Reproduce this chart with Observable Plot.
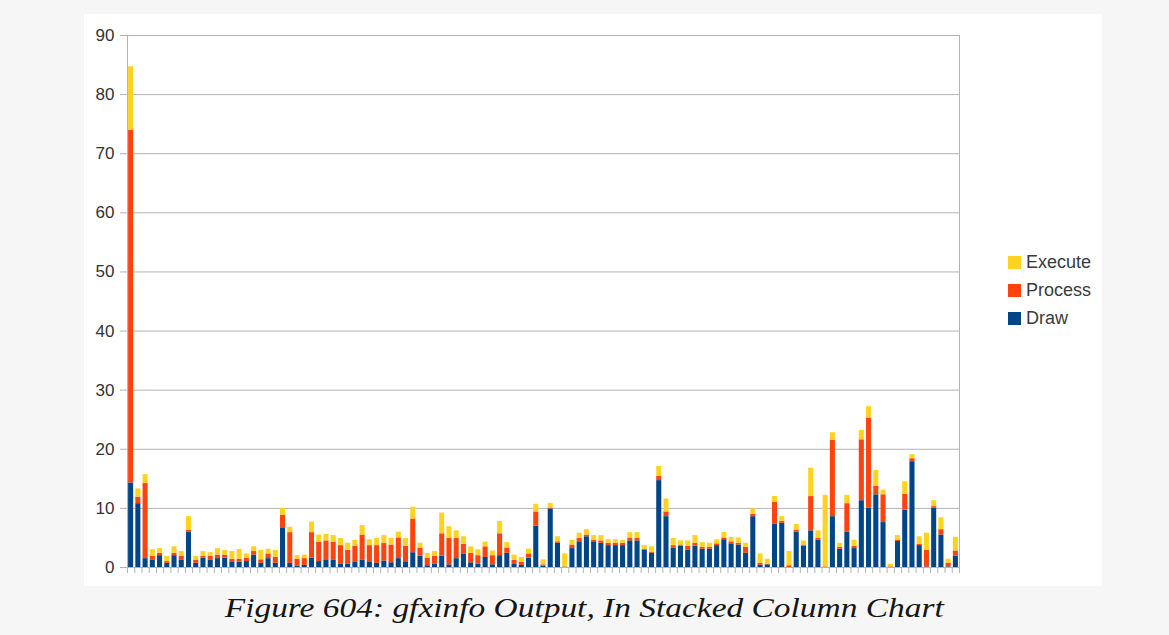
<!DOCTYPE html>
<html><head><meta charset="utf-8">
<script src="https://cdn.jsdelivr.net/npm/d3@7"></script>
<script src="https://cdn.jsdelivr.net/npm/@observablehq/plot@0.6"></script>
<style>
html,body{margin:0;padding:0;background:#f6f6f6;width:1169px;height:635px;overflow:hidden;}
#panel{position:absolute;left:84px;top:14px;width:1018px;height:572px;background:#fff;}
#panel svg{position:absolute;left:0;top:0;}
#legend{position:absolute;left:924px;top:234px;font-family:"Liberation Sans",Arial,sans-serif;font-size:18px;color:#3a3a3a;}
.item{display:flex;align-items:center;height:28px;}
.sw{width:13px;height:13px;margin-right:5px;}
#caption{position:absolute;left:0;width:1169px;top:592px;text-align:center;font-family:"Liberation Serif",serif;font-style:italic;font-size:28px;color:#151515;white-space:nowrap;}
#caption span{display:inline-block;transform-origin:50% 50%;}
</style></head>
<body>
<div id="panel"><div id="legend"></div></div>
<div id="caption">Figure 604: gfxinfo Output, In Stacked Column Chart</div>
<script>
const frames = d3.range(1, 116);
const draw = [14.3,10.8,1.5,1.2,2.0,0.7,2.0,1.2,6.0,0.7,1.6,1.2,1.5,1.6,0.85,0.9,1.0,2.1,0.7,1.5,0.7,6.6,0.7,0.2,0.35,1.6,1.0,1.3,1.2,0.6,0.55,0.85,1.2,0.85,0.7,1.1,0.8,1.5,0.85,2.5,1.9,0.3,0.55,1.9,0.45,1.5,2.3,0.8,0.55,1.7,0.45,2.0,2.4,0.5,0.35,1.6,7.0,0.2,9.9,4.1,0.05,3.2,4.35,5.2,4.35,4.1,3.7,3.7,3.7,4.5,4.5,2.9,2.4,14.7,8.6,3.3,3.6,2.9,3.6,3.1,3.1,3.7,4.7,4.0,3.8,2.4,8.6,0.4,0.45,7.3,7.5,0,6.0,3.6,6.2,4.6,0,8.6,3.1,6.0,3.2,11.3,10.05,12.3,7.6,0,4.4,9.7,17.9,3.7,0.1,10.05,5.5,0.1,1.9];
const process = [59.7,1.1,12.7,0.7,0.4,0.3,0.4,0.7,0.3,0.5,0.3,0.7,0.6,0.5,0.55,0.5,0.6,0.6,0.6,0.8,1.0,2.2,5.2,1.2,1.15,4.3,3.3,3.2,3.1,3.1,2.35,2.75,4.3,2.85,3.0,3.0,3.0,3.5,2.75,5.7,1.4,1.3,1.35,3.8,4.45,3.4,1.6,1.6,1.45,1.8,1.55,3.7,0.9,0.7,0.55,0.7,2.4,0.25,0.15,0.25,0.05,0.6,0.55,0.3,0.25,0.4,0.4,0.4,0.4,0.4,0.4,0.2,0.2,0.7,0.8,0.4,0.2,0.7,0.5,0.3,0.3,0.3,0.3,0.35,0.3,1.0,0.4,0.3,0.1,3.7,0.3,0.3,0.3,0.2,5.8,0.3,0.1,12.9,0.3,4.8,0.4,10.3,15.25,1.4,4.7,0.1,0.2,2.7,0.5,0.2,2.8,0.25,0.9,0.6,0.9];
const execute = [10.7,1.4,1.5,1.1,0.8,0.9,1.1,0.8,2.3,0.7,0.8,0.6,1.1,0.8,1.3,1.65,0.7,0.8,1.6,0.8,1.2,1.2,0.9,0.6,0.6,1.8,1.2,1.1,1.1,1.2,1.2,1.0,1.6,1.0,1.2,1.3,1.1,1.0,1.3,2.0,0.8,0.8,0.8,3.5,2.0,1.3,1.3,1.1,1.0,0.8,0.8,2.1,0.9,0.9,0.8,0.8,1.3,0.85,0.8,0.85,2.2,0.8,0.9,0.9,0.8,0.9,0.6,0.6,0.5,1.0,1.0,0.6,0.9,1.7,2.2,1.2,0.7,0.9,1.3,0.8,0.7,0.7,0.9,0.75,0.9,0.7,0.9,1.6,0.85,1.0,0.8,2.4,1.0,0.7,4.8,1.3,12.1,1.3,0.7,1.4,1.0,1.6,1.9,2.7,0.8,0.45,0.8,2.1,0.7,1.3,2.9,1.0,2.0,0.7,2.3];
const series = ["Draw", "Process", "Execute"];
const colors = ["#004586", "#ff420e", "#ffd320"];
const legendOrder = ["Execute", "Process", "Draw"];
const yTicks = [0, 10, 20, 30, 40, 50, 60, 70, 80, 90];

const rows = [];
frames.forEach((f, i) => {
  rows.push({frame: f, series: "Draw", value: draw[i]});
  rows.push({frame: f, series: "Process", value: process[i]});
  rows.push({frame: f, series: "Execute", value: execute[i]});
});

const W = 1018, H = 572, mL = 43, mR = 143, mT = 21, mB = 19;
const step = (W - mL - mR) / frames.length;

const chart = Plot.plot({
  width: W, height: H,
  marginLeft: mL, marginRight: mR, marginTop: mT, marginBottom: mB,
  style: {fontFamily: "'Liberation Sans', Arial, sans-serif", fontSize: "17px", color: "#333", background: "transparent", overflow: "visible"},
  x: {domain: frames, paddingInner: 0.3, paddingOuter: 0.15, round: false, axis: null, label: null},
  y: {domain: [0, 90], axis: null, label: null},
  color: {domain: series, range: colors},
  marks: [
    Plot.gridY(yTicks, {stroke: "#b3b3b3", strokeOpacity: 1}),
    Plot.frame({stroke: "#b3b3b3"}),
    Plot.barY(rows, Plot.stackY({x: "frame", y: "value", fill: "series", order: series})),
    Plot.axisY(yTicks, {tickSize: 7, tickPadding: 6, stroke: "#b3b3b3", fill: "#333", tickFormat: d => d, label: null}),
    Plot.axisX(frames, {tickSize: 6, tickFormat: () => "", stroke: "#b3b3b3", dx: -step / 2, label: null}),
    Plot.axisX([frames[frames.length - 1]], {tickSize: 6, tickFormat: () => "", stroke: "#b3b3b3", dx: step / 2, label: null})
  ]
});
document.getElementById("panel").appendChild(chart);

const legend = document.getElementById("legend");
legendOrder.forEach(s => {
  const it = document.createElement("div");
  it.className = "item";
  const sw = document.createElement("div");
  sw.className = "sw";
  sw.style.background = colors[series.indexOf(s)];
  const t = document.createElement("span");
  t.textContent = s;
  it.appendChild(sw); it.appendChild(t);
  legend.appendChild(it);
});

// fit caption width to reference
const cap = document.getElementById("caption");
const span = document.createElement("span");
span.textContent = cap.textContent; cap.textContent = "";
cap.appendChild(span);
const w = span.getBoundingClientRect().width;
span.style.transform = "scaleX(" + (719 / w) + ")";
</script>
</body></html>
